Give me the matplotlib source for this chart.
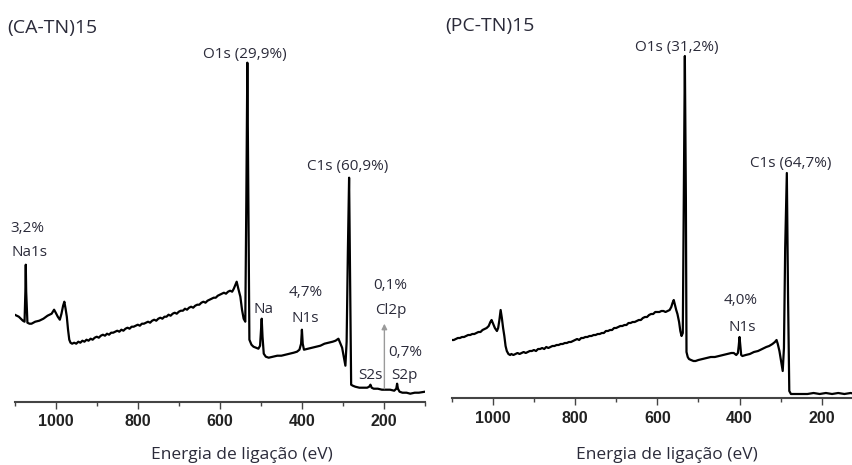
import matplotlib.pyplot as plt
from matplotlib.ticker import MultipleLocator

# (CA-TN)15 survey spectrum: binding energy (eV) and intensity (a.u., height above baseline)
ca_ev = [1100, 1095, 1090, 1085, 1080, 1076, 1074, 1073, 1072, 1069, 1064, 1059, 1050, 1040, 1030,
         1020, 1010, 1004, 1000, 995, 990, 986, 982, 979, 976, 973, 970, 967, 964, 960,
         955, 950, 945, 940, 935, 930, 925, 920, 915, 910, 905, 900, 895, 890, 885,
         880, 875, 870, 865, 860, 855, 850, 845, 840, 835, 830, 825, 820, 815, 810,
         805, 800, 795, 790, 785, 780, 775, 770, 765, 760, 755, 750, 745, 740, 735,
         730, 725, 720, 715, 710, 705, 700, 695, 690, 685, 680, 675, 670, 665, 660,
         655, 650, 645, 640, 635, 630, 625, 620, 615, 610, 605, 600, 595, 590, 585,
         580, 575, 570, 566, 562, 559, 555, 550, 546, 542, 538, 535.5, 533, 530.5, 528,
         523, 518, 512, 506, 502, 500, 498, 496, 493, 488, 481, 470, 460, 450, 440,
         430, 420, 412, 406, 402, 400, 398, 395, 385, 375, 365, 355, 345, 335, 325,
         318, 311, 306, 302, 298, 294, 291, 288, 285, 282, 280, 276, 270, 260, 250,
         241, 236, 233, 230, 225, 215, 205, 195, 185, 175, 170, 168, 166, 162, 155,
         145, 136, 125, 115, 100]
ca_int = [87, 86, 85, 83, 81, 80, 110, 137, 110, 79, 78, 78, 80, 81, 83,
          86, 88, 92, 89, 85, 82, 88, 96, 100, 93, 85, 72, 62, 59, 58,
          59, 58, 60, 59, 61, 60, 62, 61, 63, 62, 64, 65, 64, 66, 67,
          66, 68, 67, 69, 69, 70, 71, 70, 72, 71, 73, 74, 73, 75, 75,
          76, 77, 76, 78, 78, 79, 80, 79, 81, 82, 81, 83, 84, 83, 85,
          85, 87, 86, 88, 89, 88, 90, 91, 91, 93, 92, 94, 95, 94, 96,
          97, 97, 99, 100, 99, 101, 102, 103, 104, 104, 106, 107, 108, 109, 108,
          110, 111, 110, 113, 117, 120, 113, 105, 92, 83, 80, 200, 339, 200, 62,
          57, 55, 54, 53, 56, 70, 83, 65, 48, 45, 44, 45, 46, 46, 47,
          48, 49, 50, 52, 58, 72, 58, 52, 53, 54, 55, 56, 58, 59, 60,
          61, 63, 58, 54, 45, 36, 60, 150, 224, 100, 17, 16, 15, 14, 14,
          14, 15, 17, 14, 13, 13, 12, 12, 12, 11, 13, 18, 13, 10, 9,
          9, 8, 9, 9, 10]

# (PC-TN)15 survey spectrum
pc_ev = [1100, 1095, 1090, 1085, 1080, 1075, 1070, 1065, 1060, 1055, 1050, 1045, 1040, 1035, 1030,
         1025, 1020, 1015, 1010, 1006, 1003, 1000, 995, 990, 987, 984, 981, 978, 975, 972,
         969, 966, 962, 958, 955, 950, 945, 940, 935, 930, 925, 920, 915, 910, 905,
         900, 895, 890, 885, 880, 875, 870, 865, 860, 855, 850, 845, 840, 835, 830,
         825, 820, 815, 810, 805, 800, 795, 790, 785, 780, 775, 770, 765, 760, 755,
         750, 745, 740, 735, 730, 725, 720, 715, 710, 705, 700, 695, 690, 685, 680,
         675, 670, 665, 660, 655, 650, 645, 640, 635, 630, 625, 620, 615, 610, 605,
         600, 595, 590, 585, 580, 575, 570, 566, 563, 560, 557, 554, 551, 547, 544,
         541, 538, 535.5, 533, 530.5, 529, 526, 523, 518, 512, 507, 500, 490, 480, 470,
         460, 450, 440, 430, 420, 414, 408, 404, 402, 400, 398, 396, 393, 385, 375,
         365, 355, 345, 335, 328, 320, 314, 310, 307, 303, 299, 295, 292, 289, 285,
         282, 279, 275, 265, 250, 235, 220, 205, 190, 175, 160, 145, 130, 124]
pc_int = [58, 58, 59, 60, 60, 61, 61, 62, 63, 63, 64, 64, 65, 66, 66,
          68, 69, 70, 72, 76, 78, 75, 70, 67, 70, 78, 88, 80, 70, 62,
          52, 47, 44, 43, 44, 43, 44, 45, 44, 45, 46, 45, 46, 47, 47,
          48, 47, 49, 49, 50, 49, 51, 50, 51, 52, 52, 53, 53, 54, 54,
          55, 55, 56, 56, 57, 58, 59, 58, 60, 60, 61, 61, 62, 62, 63,
          63, 64, 64, 65, 65, 67, 67, 68, 68, 70, 70, 71, 72, 72, 73,
          73, 75, 75, 76, 76, 77, 78, 78, 80, 81, 81, 83, 84, 84, 86,
          86, 86, 87, 87, 86, 87, 88, 91, 95, 98, 93, 88, 84, 76, 67,
          62, 65, 200, 342, 200, 46, 41, 39, 38, 37, 37, 38, 39, 40, 41,
          41, 42, 43, 44, 45, 45, 43, 45, 52, 61, 52, 43, 42, 43, 44,
          46, 47, 49, 51, 52, 54, 56, 58, 54, 47, 37, 27, 50, 150, 225,
          100, 7, 4, 4, 4, 4, 5, 4, 5, 4, 5, 4, 5, 4.5]

major_ticks = [1000, 800, 600, 400, 200]

TXT = "#2b2b3a"
ANNOT_FONT = "Open Sans"

fig = plt.figure(figsize=(8.52, 4.65), dpi=100)
ax1 = fig.add_axes([14.7 / 852, 63.3 / 465, 410.3 / 852, 401.7 / 465])
ax2 = fig.add_axes([451.7 / 852, 67.0 / 465, 400.3 / 852, 398.0 / 465])

for ax, ev, inten, top, xr in [(ax1, ca_ev, ca_int, 401.7, 100), (ax2, pc_ev, pc_int, 398.0, 126.5)]:
    ax.plot(ev, inten, color="black", lw=1.6, solid_joinstyle="round")
    ax.set_xlim(1100, xr)
    ax.set_ylim(0, top)
    for s in ["top", "left", "right"]:
        ax.spines[s].set_visible(False)
    ax.spines["bottom"].set_color("#444444")
    ax.spines["bottom"].set_linewidth(1.5)
    ax.set_yticks([])
    ax.set_xticks(major_ticks)
    ax.xaxis.set_minor_locator(MultipleLocator(100))
    ax.tick_params(axis="x", which="major", direction="out", length=5, width=1,
                   color="#444444", pad=4)
    ax.tick_params(axis="x", which="minor", direction="out", length=3, width=1,
                   color="#444444")
    for lab in ax.get_xticklabels():
        lab.set_fontfamily("Liberation Sans")
        lab.set_fontweight("bold")
        lab.set_fontsize(11.5)
        lab.set_color("#222222")
    ax.set_xlabel("Energia de ligação (eV)", fontfamily=ANNOT_FONT, fontsize=12.5,
                  color=TXT, va="center")
    ax.patch.set_alpha(0)

ax1.xaxis.set_label_coords(0.554, -0.133)
ax2.xaxis.set_label_coords(0.538, -0.143)

fig.text(7 / 852, 1 - 28 / 465, "(CA-TN)15", fontfamily=ANNOT_FONT, fontsize=14,
         color=TXT, va="center", ha="left")
fig.text(445 / 852, 1 - 26 / 465, "(PC-TN)15", fontfamily=ANNOT_FONT, fontsize=14,
         color=TXT, va="center", ha="left")

left_notes = [("O1s (29,9%)", 538, 347), ("C1s (60,9%)", 289, 235),
              ("3,2%", 1069, 173), ("Na1s", 1065, 149), ("Na", 493, 92),
              ("4,7%", 392, 109), ("N1s", 392, 83), ("0,1%", 185, 116),
              ("Cl2p", 183, 91), ("0,7%", 147, 49), ("S2p", 150, 26), ("S2s", 233, 26)]
right_notes = [("O1s (31,2%)", 553, 350), ("C1s (64,7%)", 275, 234),
               ("4,0%", 397, 97), ("N1s", 394, 71)]

for ax, notes in [(ax1, left_notes), (ax2, right_notes)]:
    for txt, x, y in notes:
        ax.text(x, y, txt, ha="center", va="center", fontfamily=ANNOT_FONT,
                fontsize=11, color=TXT, clip_on=False)

# Cl2p marker arrow
ax1.annotate("", xy=(199, 78), xytext=(199, 13),
             arrowprops=dict(arrowstyle="-|>", color="#9a9a9a", lw=1,
                             mutation_scale=8, shrinkA=0, shrinkB=0))

fig.savefig("out.png", dpi=100)
